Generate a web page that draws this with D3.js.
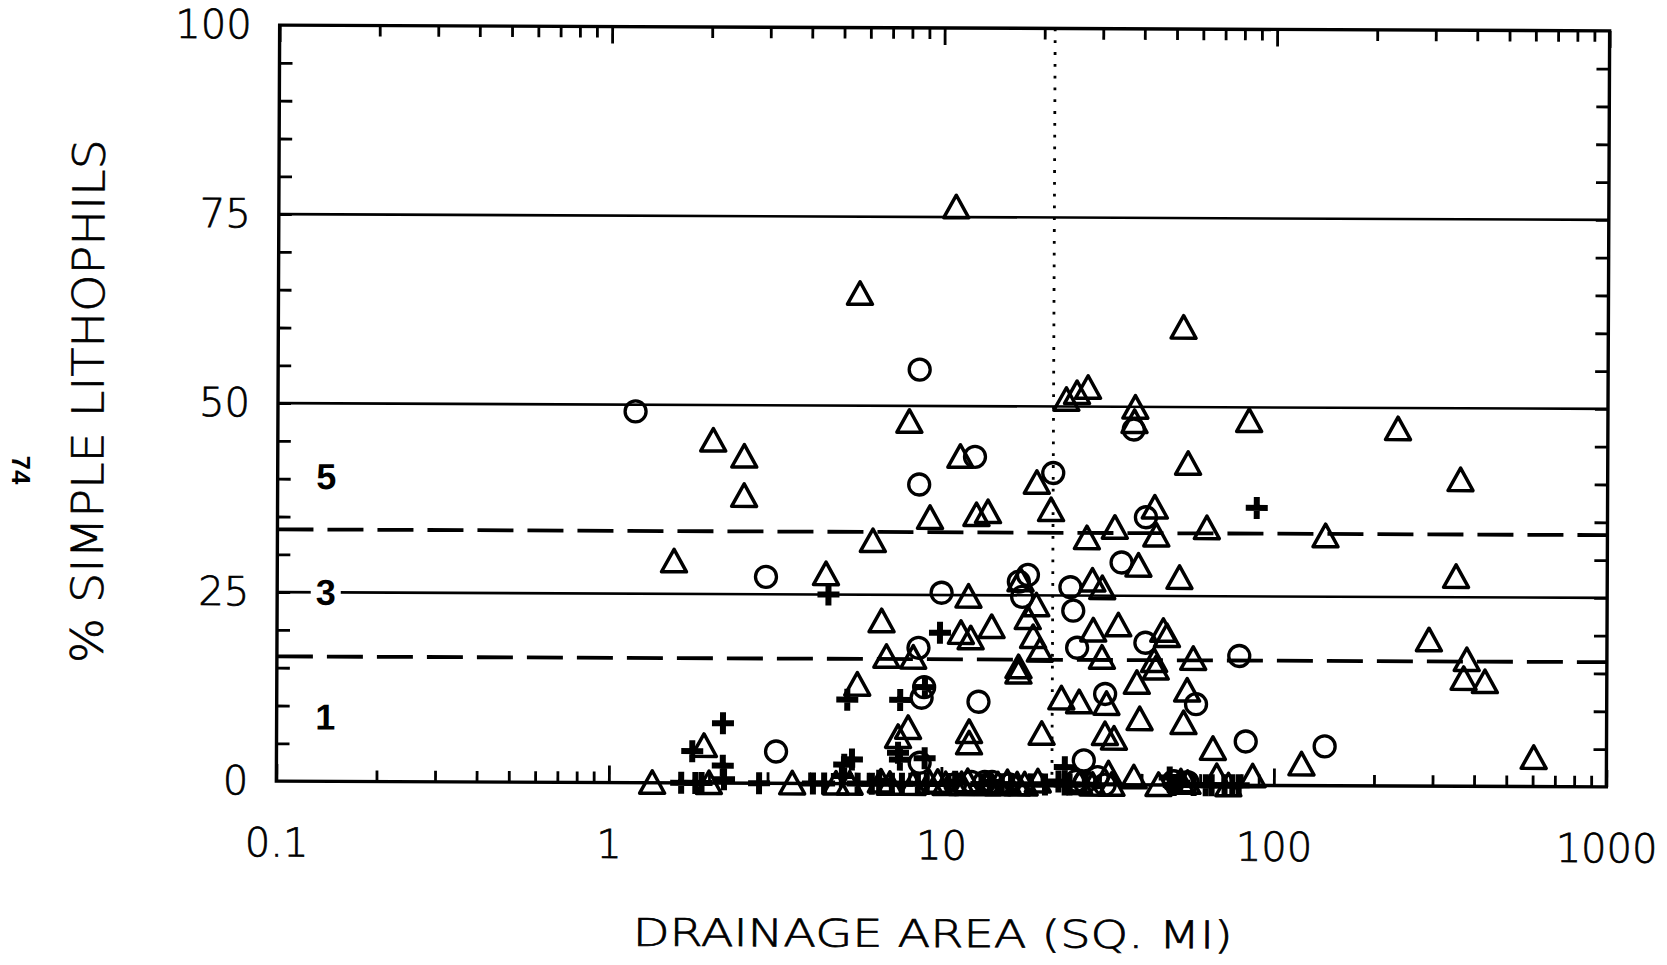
<!DOCTYPE html>
<html><head><meta charset="utf-8">
<script src="https://cdn.jsdelivr.net/npm/d3@7/dist/d3.min.js"></script>
<style>html,body{margin:0;padding:0;background:#fff}svg{display:block}</style>
</head><body>
<svg id="chart" width="1667" height="965"></svg>
<script>
// ---------- data ----------
const xTickValues = [0.1, 1, 10, 100, 1000];
const xTickLabels = ["0.1", "1", "10", "100", "1000"];
const yTickValues = [0, 25, 50, 75, 100];
const yTickLabels = ["0", "25", "50", "75", "100"];
const solidLineValues = [25, 50, 75];
const dashedLineValues = [33.3, 16.5];
const dottedLineX = [21.5];
const regionLabels = ["5", "3", "1"];
const regionLabelY = [40.3, 25, 8.5];
const regionLabelX = [0.14, 0.14, 0.14];
const xTitle = "DRAINAGE  AREA  (SQ.  MI)";
const yTitle = "%  SIMPLE  LITHOPHILS";
const pageNumber = "74";

// open triangles
const triX = [10.9, 5.61, 52.8, 23.5, 25.3, 27.3, 37.9, 37.7, 7.93, 83.4, 233.8, 2.04, 2.53, 11.3, 54.7, 361, 19.2, 2.53,
  9.17, 12.65, 13.7, 21.2, 43.5, 33.0, 44.0, 62.4, 142, 6.18, 27.2, 1.56, 38.9, 4.47, 17.2, 28.3, 30.3, 51.7, 351,
  12.0, 19.2, 18.1, 6.58, 33.9, 28.5, 14.1, 11.4, 12.2, 18.8, 46.3, 47.5, 291.5, 19.7, 6.81, 8.2, 30.3, 43.5, 44.0,
  57.0, 379, 17.0, 17.0, 371, 430, 38.6, 5.57, 54.7, 31.3, 22.9, 25.9, 39.4, 53.4, 7.93, 7.4, 12.1, 12.1, 20.0,
  31.0, 33.0, 1.93, 65.5, 121, 604,
  1.35, 3.56, 4.82, 6.58, 8.21, 9.75, 11.5, 13.8, 16.9, 19.5, 28.5, 31.8, 37.9, 52.5, 67.3, 86.3,
  2.0, 5.3, 7.0, 9.2, 10.3, 12.0, 14.8, 15.8, 17.8, 26.0, 32.5, 45.0, 55.0, 73.0];
const triY = [76.3, 64.8, 60.5, 50.9, 51.8, 52.5, 49.9, 48.0, 47.9, 48.2, 47.2, 45.3, 43.2, 43.3, 42.5, 40.5, 39.9, 38.0,
  35.2, 35.6, 36.0, 36.3, 36.7, 34.0, 33.0, 34.0, 33.0, 32.1, 32.6, 29.3, 29.0, 27.7, 27.0, 27.0, 26.0, 27.4, 27.7,
  24.8, 23.7, 22.0, 21.5, 21.1, 20.4, 20.8, 20.0, 19.3, 19.5, 20.4, 19.7, 19.3, 17.7, 16.8, 16.7, 16.8, 16.4, 15.4,
  16.7, 16.7, 15.5, 14.8, 14.2, 13.8, 13.5, 13.1, 12.5, 10.7, 11.4, 10.9, 8.7, 8.2, 7.4, 6.2, 6.9, 5.4, 6.7,
  6.7, 6.1, 4.9, 4.8, 2.8, 3.8,
  0, 0, 0, 0.3, 0, 0.3, 0, 0, 0, 0.4, 0, 1.5, 1.0, 0.5, 1.2, 1.2,
  0, 0, 0, 0.2, 0, 0.4, 0, 0.3, 0, 0.2, 0, 0, 0.3, 0];

// open circles
const circX = [8.5, 1.19, 37.5, 12.5, 21.5, 8.5, 40.9, 34.6, 2.95, 9.96, 17.0, 18.1, 17.4, 24.3, 24.8, 8.5, 25.5, 40.9,
  78.4, 8.85, 8.7, 12.9, 31.0, 58.2, 3.18, 8.6, 82.2, 142, 26.8, 29.5, 11.0, 12.3, 13.5, 27.0, 50.0,
  14.2, 16.0, 25.5, 31.0, 55.0];
const circY = [54.8, 49.1, 47.0, 43.3, 41.2, 39.6, 35.4, 29.4, 27.3, 25.3, 26.8, 27.7, 24.8, 26.1, 23.0, 18.0, 18.1, 18.8,
  17.1, 12.8, 11.4, 10.9, 12.0, 10.7, 4.2, 2.8, 5.8, 5.2, 3.2, 1.0, 0, 0.3, 0.3, 0.3, 0.5,
  0.3, 0, 0.5, 0, 0.4];

// bold crosses
const plusX = [88.1, 4.55, 9.86, 5.2, 7.5, 8.9, 2.2, 1.78, 2.2, 5.38, 5.1, 7.4, 7.5, 8.9, 23.5,
  1.65, 1.82, 2.22, 2.83, 4.11, 4.44, 5.02, 6.18, 7.10, 7.61, 9.04, 10.5, 15.2, 18.6, 23.5, 24.3, 48.6, 57.4, 62.4, 71.1, 78.4,
  1.9, 5.6, 6.5, 8.5, 11.0, 13.2, 14.0, 16.2, 20.5, 22.5, 27.0, 50.0, 52.0, 65.0, 75.0];
const plusY = [36.7, 25.0, 20.0, 11.1, 11.1, 12.8, 7.9, 4.2, 2.3, 3.2, 2.5, 4.1, 3.2, 3.4, 2.3,
  0, 0, 0.5, 0, 0, 0, 1.0, 0, 0, 0, 0, 0, 0, 0, 0, 0, 1.0, 0, 0, 0, 0,
  0, 0, 0.4, 0, 0.3, 0, 0.3, 0, 0, 0.4, 0, 0, 0.3, 0, 0];

// ---------- drawing ----------
const svg = d3.select("#chart");
const FONT = "'DejaVu Sans', 'Liberation Sans', sans-serif";
const root = svg.append("g").attr("transform", "rotate(0.25 943 406)");

const x = d3.scaleLog().domain([0.1, 1000]).range([278, 1608]);
const y = d3.scaleLinear().domain([0, 100]).range([784, 28]);
const [x0, x1] = x.range();
const [yb, yt] = y.range();

// minor ticks
const minorX = [];
[0.1, 1, 10, 100].forEach(d => { for (let k = 2; k <= 9; k++) minorX.push(d * k); });
const minorY = d3.range(5, 100, 5);

function styleAxis(g) {
  g.select(".domain").remove();
  g.selectAll(".tick line").attr("stroke", "#000").attr("stroke-width", 2.8);
  g.selectAll("text").attr("font-family", FONT).attr("font-weight", 200)
    .attr("font-size", 40).attr("fill", "#000").attr("stroke", "#000").attr("stroke-width", 0.7);
}

// bottom axis: majors with labels, minors
root.append("g").attr("transform", `translate(0,${yb})`)
  .call(d3.axisBottom(x).tickValues(xTickValues).tickSizeInner(-17).tickSizeOuter(0).tickPadding(47)
    .tickFormat((d, i) => xTickLabels[i]))
  .call(styleAxis);
root.append("g").attr("transform", `translate(0,${yb})`)
  .call(d3.axisBottom(x).tickValues(minorX).tickSizeInner(-11).tickSizeOuter(0).tickFormat(""))
  .call(styleAxis);
// top axis
root.append("g").attr("transform", `translate(0,${yt})`)
  .call(d3.axisTop(x).tickValues(xTickValues).tickSizeInner(-17).tickSizeOuter(0).tickFormat(""))
  .call(styleAxis);
root.append("g").attr("transform", `translate(0,${yt})`)
  .call(d3.axisTop(x).tickValues(minorX).tickSizeInner(-11).tickSizeOuter(0).tickFormat(""))
  .call(styleAxis);
// left axis
root.append("g").attr("transform", `translate(${x0},0)`)
  .call(d3.axisLeft(y).tickValues(yTickValues).tickSizeInner(0).tickSizeOuter(0).tickPadding(28)
    .tickFormat((d, i) => yTickLabels[i]))
  .call(styleAxis);
root.append("g").attr("transform", `translate(${x0},0)`)
  .call(d3.axisLeft(y).tickValues(minorY).tickSizeInner(-13).tickSizeOuter(0).tickFormat(""))
  .call(styleAxis);
// right axis
root.append("g").attr("transform", `translate(${x1},0)`)
  .call(d3.axisRight(y).tickValues(minorY).tickSizeInner(-13).tickSizeOuter(0).tickFormat(""))
  .call(styleAxis);

// reference lines
root.selectAll("line.solid").data(solidLineValues).join("line").attr("class", "solid")
  .attr("x1", x0).attr("x2", x1).attr("y1", d => y(d)).attr("y2", d => y(d))
  .attr("stroke", "#000").attr("stroke-width", 2.6);
root.selectAll("line.dashed").data(dashedLineValues).join("line").attr("class", "dashed")
  .attr("x1", x0).attr("x2", x1).attr("y1", d => y(d)).attr("y2", d => y(d))
  .attr("stroke", "#000").attr("stroke-width", 3.8).attr("stroke-dasharray", "36,14");
root.selectAll("line.dotted").data(dottedLineX).join("line").attr("class", "dotted")
  .attr("x1", d => x(d)).attr("x2", d => x(d)).attr("y1", yt).attr("y2", yb)
  .attr("stroke", "#000").attr("stroke-width", 2.8).attr("stroke-dasharray", "2.8,9");

// region labels
const rl = root.append("g");
regionLabels.forEach((t, i) => {
  const cx = x(regionLabelX[i]), cy = y(regionLabelY[i]);
  if (t === "3") {
    rl.append("rect").attr("x", cx - 15).attr("y", cy - 10).attr("width", 30).attr("height", 20).attr("fill", "#fff");
  }
  rl.append("text").attr("x", cx).attr("y", cy).attr("text-anchor", "middle").attr("dominant-baseline", "central")
    .attr("font-family", "'Liberation Sans', Arial, sans-serif").attr("font-weight", "bold")
    .attr("font-size", 36).attr("fill", "#000").text(t);
});

// markers
const marks = root.append("g").attr("fill", "none").attr("stroke", "#000");
const triData = triX.map((v, i) => [v, triY[i]]);
const circData = circX.map((v, i) => [v, circY[i]]);
const plusData = plusX.map((v, i) => [v, plusY[i]]);

marks.selectAll("path.tri").data(triData).join("path").attr("class", "tri")
  .attr("transform", d => `translate(${x(d[0])},${y(d[1])})`)
  .attr("d", "M0,-12 L12.5,10.5 L-12.5,10.5 Z").attr("stroke-width", 3.5).attr("stroke-linejoin", "round");
marks.selectAll("circle.circ").data(circData).join("circle").attr("class", "circ")
  .attr("cx", d => x(d[0])).attr("cy", d => y(d[1])).attr("r", 10.5).attr("stroke-width", 3.3);
marks.selectAll("path.plus").data(plusData).join("path").attr("class", "plus")
  .attr("transform", d => `translate(${x(d[0])},${y(d[1])})`)
  .attr("d", "M-11,0 H11 M0,-11 V11").attr("stroke-width", 6);

// frame
root.append("rect").attr("x", x0).attr("y", yt).attr("width", x1 - x0).attr("height", yb - yt)
  .attr("fill", "none").attr("stroke", "#000").attr("stroke-width", 3.4);

// titles
root.append("text").attr("x", (x0 + x1) / 2 - 8).attr("y", 934)
  .attr("text-anchor", "middle").attr("dominant-baseline", "central")
  .attr("font-family", FONT).attr("font-weight", 200).attr("font-size", 38).attr("fill", "#000")
  .attr("stroke", "#000").attr("stroke-width", 0.7)
  .attr("textLength", 600).attr("lengthAdjust", "spacingAndGlyphs").text(xTitle);
root.append("text").attr("transform", "translate(88,405) rotate(-90)")
  .attr("text-anchor", "middle").attr("dominant-baseline", "central")
  .attr("font-family", FONT).attr("font-weight", 200).attr("font-size", 44).attr("fill", "#000")
  .attr("stroke", "#000").attr("stroke-width", 0.7)
  .attr("textLength", 524).attr("lengthAdjust", "spacingAndGlyphs").text(yTitle);
svg.append("text").attr("transform", "translate(21,470) rotate(90)")
  .attr("text-anchor", "middle").attr("dominant-baseline", "central")
  .attr("font-family", "'Liberation Sans', Arial, sans-serif").attr("font-weight", "bold")
  .attr("font-size", 26).attr("fill", "#000").text(pageNumber);
</script>
</body></html>
